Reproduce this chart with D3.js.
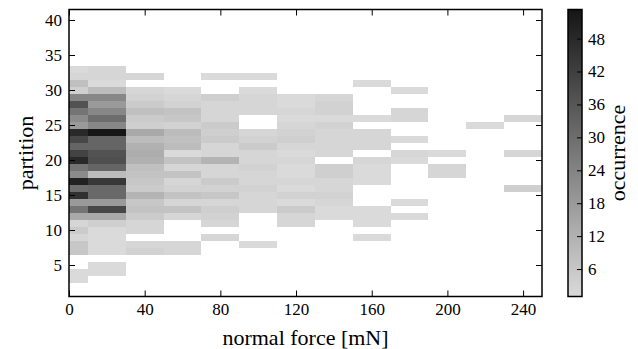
<!DOCTYPE html>
<html>
<head>
<meta charset="utf-8">
<script src="https://cdn.jsdelivr.net/npm/d3@7"></script>
<style>
  body { margin: 0; background: #fff; }
  svg { display: block; }
  svg text { font-family: "Liberation Serif", "Times New Roman", Tinos, "DejaVu Serif", serif; fill: #000; }
</style>
</head>
<body>
<div id="chart"></div>
<script>
// bin centres of normal force [mN], 20 mN wide
const forceBins = [0, 20, 40, 60, 80, 100, 120, 140, 160, 180, 200, 220, 240];

// occurrence per partition (index 0 = partition 1 ... index 32 = partition 33), one array per force bin
const occ000 = [0,0,1,1,0,0,6,6,2,5,2,14,28,18,46,30,50,22,28,48,41,32,40,48,18,22,28,37,23,4,8,2,1];
const occ020 = [0,0,0,1,1,0,1,1,1,1,4,14,40,18,31,31,44,9,32,38,37,32,32,53,23,30,23,18,23,9,1,2,2];
const occ040 = [0,0,0,0,0,0,3,2,0,2,2,5,7,6,11,5,6,7,8,12,13,12,9,14,4,5,8,5,3,2,0,2,0];
const occ060 = [0,0,0,0,0,0,2,2,0,0,0,2,7,2,7,3,2,7,2,7,1,9,8,9,3,6,7,3,2,1,0,0,0];
const occ080 = [0,0,0,0,0,0,0,0,2,0,2,3,4,2,6,3,5,2,2,11,2,2,5,4,5,2,2,2,4,0,0,1,0];
const occ100 = [0,0,0,0,0,0,0,1,0,0,0,0,2,2,2,3,2,2,3,2,2,5,3,2,0,0,2,2,2,1,0,1,0];
const occ120 = [0,0,0,0,0,0,0,0,0,0,2,2,5,1,3,1,2,1,1,2,1,2,4,3,2,1,2,1,1,0,0,0,0];
const occ140 = [0,0,0,0,0,0,0,0,0,0,0,1,1,2,3,2,2,4,4,0,2,2,2,2,3,1,3,3,2,0,0,0,0];
const occ160 = [0,0,0,0,0,0,0,0,1,0,1,1,1,0,0,0,1,1,1,2,0,2,2,2,0,1,0,0,0,0,1,0,0];
const occ180 = [0,0,0,0,0,0,0,0,0,0,0,1,0,1,0,0,0,0,0,1,2,0,1,0,0,2,2,0,0,1,0,0,0];
const occ200 = [0,0,0,0,0,0,0,0,0,0,0,0,0,0,0,0,0,2,2,0,1,0,0,0,0,0,0,0,0,0,0,0,0];
const occ220 = [0,0,0,0,0,0,0,0,0,0,0,0,0,0,0,0,0,0,0,0,0,0,0,0,1,0,0,0,0,0,0,0,0];
const occ240 = [0,0,0,0,0,0,0,0,0,0,0,0,0,0,0,4,0,0,0,0,2,0,0,0,0,2,0,0,0,0,0,0,0];

const columns = [occ000, occ020, occ040, occ060, occ080, occ100, occ120,
                 occ140, occ160, occ180, occ200, occ220, occ240];

const xTicks = [0, 40, 80, 120, 160, 200, 240];
const yTicks = [5, 10, 15, 20, 25, 30, 35, 40];
const cTicks = [6, 12, 18, 24, 30, 36, 42, 48];

const binWidth = 20;
const xDomain = [0, 250];
const yDomain = [0.5, 41.5];
const cDomain = [1, 53.3];

// flatten into cells, skip empty bins
const cells = [];
columns.forEach((col, i) => {
  col.forEach((v, j) => {
    if (v > 0) cells.push({ force: forceBins[i], partition: j + 1, value: v });
  });
});

const W = 638, H = 349;
const plot = { left: 69, right: 542, top: 9.5, bottom: 296.5 };
const cbar = { left: 568, right: 582 };
const serif = '"Liberation Serif", "Times New Roman", Tinos, "DejaVu Serif", serif';

const svg = d3.select('#chart').append('svg')
  .attr('width', W)
  .attr('height', H);

const x = d3.scaleLinear().domain(xDomain).range([plot.left, plot.right]);
const y = d3.scaleLinear().domain(yDomain).range([plot.bottom, plot.top]);
const color = d3.scaleLinear().domain(cDomain).range(['#dadada', '#151515']);
const cy = d3.scaleLinear().domain(cDomain).range([plot.bottom, plot.top]);

// heatmap cells (clipped to the axes)
svg.append('clipPath').attr('id', 'plotClip')
  .append('rect')
  .attr('x', plot.left).attr('y', plot.top)
  .attr('width', plot.right - plot.left)
  .attr('height', plot.bottom - plot.top);

svg.append('g')
  .attr('clip-path', 'url(#plotClip)')
  .selectAll('rect')
  .data(cells)
  .enter().append('rect')
  .attr('x', d => x(d.force - binWidth / 2))
  .attr('width', d => x(d.force + binWidth / 2) - x(d.force - binWidth / 2))
  .attr('y', d => y(d.partition + 0.5))
  .attr('height', d => y(d.partition - 0.5) - y(d.partition + 0.5))
  .attr('fill', d => color(d.value))
  .attr('shape-rendering', 'crispEdges');

// axes, ticks pointing inward on all four sides
function styleAxis(g, fontSize) {
  g.attr('font-family', serif);
  g.select('.domain').remove();
  g.selectAll('.tick line').attr('stroke', '#000').attr('stroke-width', 1);
  g.selectAll('.tick text')
    .attr('fill', '#000')
    .style('font-size', fontSize + 'px')
    .style('font-family', serif);
}

svg.append('g')
  .attr('transform', `translate(0,${plot.bottom})`)
  .call(d3.axisBottom(x).tickValues(xTicks).tickSizeInner(-6).tickSizeOuter(0).tickPadding(6))
  .call(g => styleAxis(g, 17));

svg.append('g')
  .attr('transform', `translate(0,${plot.top})`)
  .call(d3.axisTop(x).tickValues(xTicks).tickSizeInner(-6).tickSizeOuter(0).tickFormat(''))
  .call(g => styleAxis(g, 17));

svg.append('g')
  .attr('transform', `translate(${plot.left},0)`)
  .call(d3.axisLeft(y).tickValues(yTicks).tickSizeInner(-6).tickSizeOuter(0).tickPadding(7))
  .call(g => styleAxis(g, 17));

svg.append('g')
  .attr('transform', `translate(${plot.right},0)`)
  .call(d3.axisRight(y).tickValues(yTicks).tickSizeInner(-6).tickSizeOuter(0).tickFormat(''))
  .call(g => styleAxis(g, 17));

svg.append('rect')
  .attr('x', plot.left).attr('y', plot.top)
  .attr('width', plot.right - plot.left)
  .attr('height', plot.bottom - plot.top)
  .attr('fill', 'none')
  .attr('stroke', '#000')
  .attr('stroke-width', 1.5);

// axis labels
svg.append('text')
  .attr('x', (plot.left + plot.right) / 2)
  .attr('y', 345)
  .attr('text-anchor', 'middle')
  .style('font-size', '22px')
  .style('font-family', serif)
  .text('normal force [mN]');

svg.append('text')
  .attr('transform', `translate(33,${(plot.top + plot.bottom) / 2}) rotate(-90)`)
  .attr('text-anchor', 'middle')
  .style('font-size', '22px')
  .style('font-family', serif)
  .text('partition');

// colorbar
const defs = svg.append('defs');
const grad = defs.append('linearGradient')
  .attr('id', 'cbarGradient')
  .attr('x1', '0%').attr('x2', '0%')
  .attr('y1', '100%').attr('y2', '0%');
grad.selectAll('stop')
  .data(d3.range(0, 1.0001, 0.1))
  .enter().append('stop')
  .attr('offset', d => (d * 100) + '%')
  .attr('stop-color', d => color(cDomain[0] + d * (cDomain[1] - cDomain[0])));

svg.append('rect')
  .attr('x', cbar.left).attr('y', plot.top)
  .attr('width', cbar.right - cbar.left)
  .attr('height', plot.bottom - plot.top)
  .attr('fill', 'url(#cbarGradient)');

svg.append('g')
  .attr('transform', `translate(${cbar.right},0)`)
  .call(d3.axisRight(cy).tickValues(cTicks).tickSizeInner(-5).tickSizeOuter(0).tickPadding(6))
  .call(g => styleAxis(g, 17));

svg.append('rect')
  .attr('x', cbar.left).attr('y', plot.top)
  .attr('width', cbar.right - cbar.left)
  .attr('height', plot.bottom - plot.top)
  .attr('fill', 'none')
  .attr('stroke', '#000')
  .attr('stroke-width', 1.5);

svg.append('text')
  .attr('transform', `translate(625,${(plot.top + plot.bottom) / 2}) rotate(-90)`)
  .attr('text-anchor', 'middle')
  .style('font-size', '22px')
  .style('font-family', serif)
  .text('occurrence');
</script>
</body>
</html>
